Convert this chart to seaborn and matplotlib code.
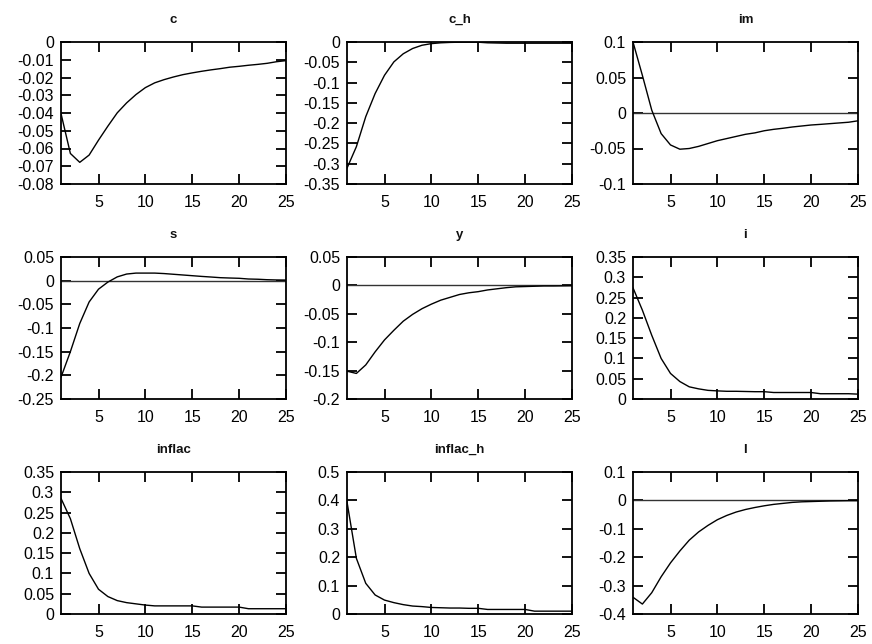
import numpy as np
import pandas as pd
import matplotlib
matplotlib.use("Agg")
import matplotlib.pyplot as plt
import seaborn as sns

periods = list(range(1, 26))

titles = ["c", "c_h", "im", "s", "y", "i", "inflac", "inflac_h", "l"]

c_vals = [-0.0403, -0.0628, -0.0678, -0.0637, -0.0553, -0.0474, -0.0399, -0.0343,
          -0.0296, -0.0257, -0.0230, -0.0212, -0.0197, -0.0184, -0.0174, -0.0165,
          -0.0157, -0.0150, -0.0142, -0.0137, -0.0131, -0.0126, -0.0120, -0.0111, -0.0105]
c_h_vals = [-0.311, -0.258, -0.184, -0.127, -0.082, -0.049, -0.029, -0.016, -0.008,
            -0.004, -0.002, -0.001, -0.0005, -0.0003, -0.0005, -0.002, -0.0025, -0.003,
            -0.003, -0.003, -0.003, -0.003, -0.003, -0.003, -0.003]
im_vals = [0.100, 0.053, 0.004, -0.029, -0.045, -0.051, -0.050, -0.047, -0.043, -0.039,
           -0.036, -0.033, -0.030, -0.028, -0.025, -0.023, -0.0215, -0.0197, -0.0183,
           -0.0169, -0.016, -0.015, -0.014, -0.013, -0.011]
s_vals = [-0.204, -0.150, -0.0905, -0.045, -0.018, -0.003, 0.008, 0.014, 0.016, 0.016,
          0.016, 0.015, 0.0135, 0.012, 0.0105, 0.009, 0.0077, 0.0063, 0.0056, 0.005,
          0.0035, 0.003, 0.002, 0.0015, 0.0013]
y_vals = [-0.151, -0.155, -0.140, -0.117, -0.096, -0.079, -0.063, -0.051, -0.041, -0.033,
          -0.026, -0.021, -0.016, -0.013, -0.011, -0.008, -0.006, -0.004, -0.0025, -0.002,
          -0.0015, -0.001, -0.001, -0.0008, -0.0006]
i_vals = [0.274, 0.219, 0.157, 0.100, 0.063, 0.043, 0.030, 0.025, 0.0213, 0.020,
          0.019, 0.019, 0.0185, 0.018, 0.018, 0.016, 0.016, 0.016, 0.016, 0.016,
          0.013, 0.013, 0.013, 0.013, 0.012]
inflac_vals = [0.285, 0.235, 0.161, 0.100, 0.061, 0.043, 0.033, 0.028, 0.025, 0.022,
               0.020, 0.020, 0.020, 0.020, 0.020, 0.017, 0.017, 0.017, 0.017, 0.017,
               0.013, 0.013, 0.013, 0.013, 0.013]
inflac_h_vals = [0.395, 0.196, 0.108, 0.067, 0.049, 0.040, 0.033, 0.028, 0.026, 0.023,
                 0.022, 0.021, 0.021, 0.020, 0.020, 0.016, 0.016, 0.016, 0.016, 0.016,
                 0.010, 0.010, 0.010, 0.010, 0.010]
l_vals = [-0.341, -0.365, -0.325, -0.269, -0.220, -0.178, -0.140, -0.111, -0.088, -0.068,
          -0.053, -0.041, -0.032, -0.025, -0.019, -0.014, -0.0105, -0.007, -0.005, -0.004,
          -0.003, -0.002, -0.0015, -0.001, -0.001]

series = [c_vals, c_h_vals, im_vals, s_vals, y_vals, i_vals, inflac_vals, inflac_h_vals, l_vals]

y_ticks = [
    [0, -0.01, -0.02, -0.03, -0.04, -0.05, -0.06, -0.07, -0.08],
    [0, -0.05, -0.1, -0.15, -0.2, -0.25, -0.3, -0.35],
    [0.1, 0.05, 0, -0.05, -0.1],
    [0.05, 0, -0.05, -0.1, -0.15, -0.2, -0.25],
    [0.05, 0, -0.05, -0.1, -0.15, -0.2],
    [0.35, 0.3, 0.25, 0.2, 0.15, 0.1, 0.05, 0],
    [0.35, 0.3, 0.25, 0.2, 0.15, 0.1, 0.05, 0],
    [0.5, 0.4, 0.3, 0.2, 0.1, 0],
    [0.1, 0, -0.1, -0.2, -0.3, -0.4],
]
y_tick_labels = [
    ["0", "-0.01", "-0.02", "-0.03", "-0.04", "-0.05", "-0.06", "-0.07", "-0.08"],
    ["0", "-0.05", "-0.1", "-0.15", "-0.2", "-0.25", "-0.3", "-0.35"],
    ["0.1", "0.05", "0", "-0.05", "-0.1"],
    ["0.05", "0", "-0.05", "-0.1", "-0.15", "-0.2", "-0.25"],
    ["0.05", "0", "-0.05", "-0.1", "-0.15", "-0.2"],
    ["0.35", "0.3", "0.25", "0.2", "0.15", "0.1", "0.05", "0"],
    ["0.35", "0.3", "0.25", "0.2", "0.15", "0.1", "0.05", "0"],
    ["0.5", "0.4", "0.3", "0.2", "0.1", "0"],
    ["0.1", "0", "-0.1", "-0.2", "-0.3", "-0.4"],
]
x_ticks = [5, 10, 15, 20, 25]
x_tick_labels = ["5", "10", "15", "20", "25"]
zero_line = [False, False, True, True, True, False, False, False, True]

sns.set_theme(style="white")
plt.rcParams["font.family"] = ["Liberation Sans", "DejaVu Sans"]
plt.rcParams["axes.unicode_minus"] = False

W, H = 872, 644
fig = plt.figure(figsize=(W / 100, H / 100), dpi=100)
fig.patch.set_facecolor("white")

col_left = [61, 347, 633]
row_top = [42, 257, 472]
aw, ah = 225, 142

for k in range(9):
    r, cidx = divmod(k, 3)
    left = col_left[cidx] / W
    bottom = 1 - (row_top[r] + ah) / H
    ax = fig.add_axes([left, bottom, aw / W, ah / H])
    df = pd.DataFrame({"period": periods, "value": series[k]})
    if zero_line[k]:
        ax.axhline(0, color="#333333", lw=1.0, zorder=1)
    sns.lineplot(data=df, x="period", y="value", ax=ax, color="black", lw=1.0, zorder=3)
    yt = y_ticks[k]
    ax.set_xlim(1, 25)
    ax.set_ylim(min(yt), max(yt))
    ax.set_xticks(x_ticks)
    ax.set_xticklabels(x_tick_labels)
    ax.set_yticks(yt)
    ax.set_yticklabels(y_tick_labels[k])
    ax.set_xlabel("")
    ax.set_ylabel("")
    ax.tick_params(axis="both", direction="in", length=7, width=1.3, color="black",
                   labelsize=11.5, labelcolor="black", top=True, right=True,
                   bottom=True, left=True)
    ax.tick_params(axis="x", pad=8)
    ax.tick_params(axis="y", pad=5)
    for sp in ax.spines.values():
        sp.set_visible(True)
        sp.set_color("black")
        sp.set_linewidth(1.3)
    ax.set_title(titles[k], fontsize=9.5, fontweight="bold", pad=14, color="#111111")
    ax.set_facecolor("white")

fig.savefig("out.png", dpi=100, facecolor="white")
